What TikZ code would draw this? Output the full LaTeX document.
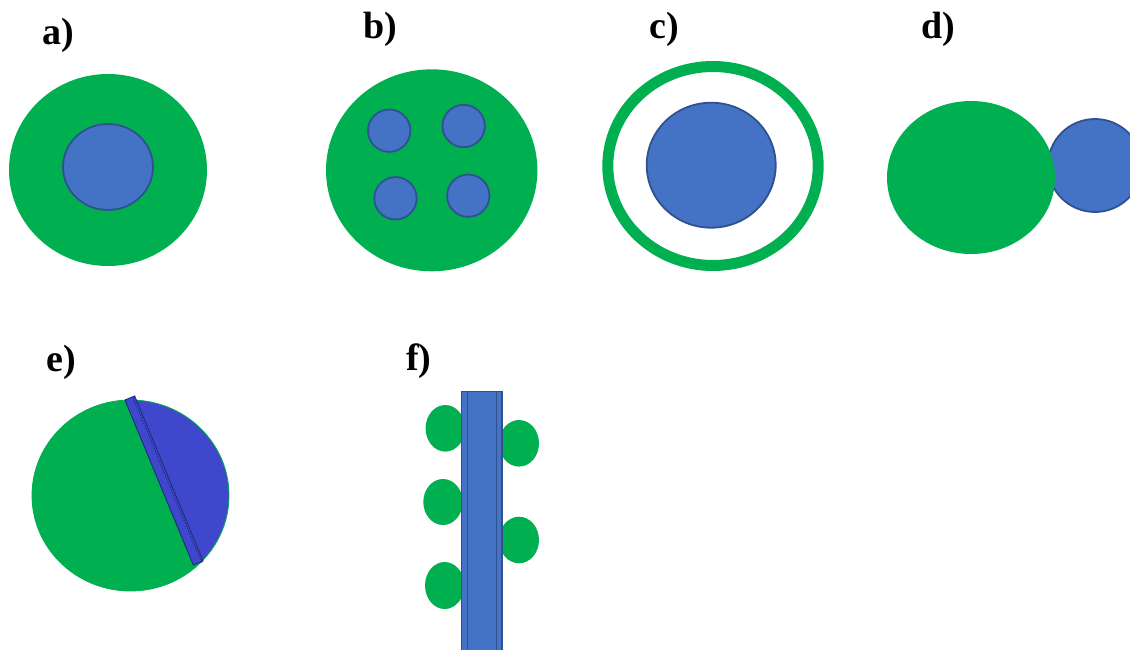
\documentclass[tikz,border=0pt]{standalone}
\usepackage{fontspec}
\setmainfont{Liberation Serif}
\definecolor{cellgreen}{HTML}{00B050}
\definecolor{corefill}{HTML}{4472C4}
\definecolor{coreline}{HTML}{2F528F}
\definecolor{capblue}{HTML}{3F48CC}
\definecolor{capline}{HTML}{1F2A78}
\begin{document}
\begin{tikzpicture}[x=1pt,y=-1pt,
  panel/.style={font=\bfseries\fontsize{38}{38}\selectfont, inner sep=0pt, anchor=base west},
  shell/.style={fill=cellgreen, draw=none},
  core/.style={fill=corefill, draw=coreline, line width=1.8pt},
  ring/.style={draw=cellgreen, line width=11pt, fill=none}]
\useasboundingbox (0,0) rectangle (1130,650);

% panel letters
\node[panel] (la) at (42,45) {a)};
\node[panel] (lb) at (363,39) {b)};
\node[panel] (lc) at (649,39) {c)};
\node[panel] (ld) at (921,39) {d)};
\node[panel] (le) at (46,371) {e)};
\node[panel] (lf) at (406,370) {f)};

% a) core inside a shell
\fill[shell] (108,170) ellipse [x radius=99, y radius=96];
\draw[core] (108,167) ellipse [x radius=45, y radius=43];

% b) several small cores in one shell
\fill[shell] (431.7,170.3) ellipse [x radius=105.7, y radius=101];
\draw[core] (389.2,130.7) circle [radius=21.2];
\draw[core] (463.7,126) circle [radius=21.2];
\draw[core] (395.5,198.3) circle [radius=21.2];
\draw[core] (468.3,195.7) circle [radius=21.2];

% c) core with a detached outer ring
\draw[ring] (713,166) ellipse [x radius=105.2, y radius=99.5];
\draw[core] (711.2,165.2) ellipse [x radius=64.5, y radius=62.5];

% d) two spheres side by side
\begin{scope}
  \clip (0,0) rectangle (1130,650);
  \draw[core] (1095,165.5) ellipse [x radius=47, y radius=46.5];
\end{scope}
\fill[shell] (971,177.5) ellipse [x radius=84, y radius=76.5];

% e) janus particle split by a band
\fill[shell] (130.5,495.5) ellipse [x radius=98.5, y radius=95.5];
\begin{scope}
  \clip (130.5,495.5) ellipse [x radius=98.5, y radius=95.5];
  \fill[capblue] (123.2,368.3) -- (218.3,598) -- (260,598) -- (260,368.3) -- cycle;
\end{scope}
\draw[cellgreen, line width=0.8pt] (130.5,495.5) ellipse [x radius=98.5, y radius=95.5];
\filldraw[fill=capblue, draw=capline, line width=0.9pt]
  (125,400) -- (134.7,396) -- (203,561) -- (193.3,565) -- cycle;
\draw[capline, line width=0.9pt, dash pattern=on 1.5pt off 1.5pt]
  (133.2,397.8) -- (201.5,562.5);

% f) rod with attached spheres
\fill[shell] (445.3,428.3) ellipse [x radius=19.7, y radius=23.3];
\fill[shell] (519,443.3) ellipse [x radius=20, y radius=23.3];
\fill[shell] (443,502) ellipse [x radius=19.7, y radius=23];
\fill[shell] (519,540) ellipse [x radius=20, y radius=23.3];
\fill[shell] (444.7,585.5) ellipse [x radius=19.7, y radius=23.5];
\begin{scope}
  \clip (0,0) rectangle (1130,650);
  \draw[core, line width=1.5pt] (461.7,391.7) rectangle (502,655);
  \draw[coreline, line width=1.5pt] (467.7,391.7) -- (467.7,655);
  \draw[coreline, line width=1.5pt] (496.7,391.7) -- (496.7,655);
\end{scope}
\end{tikzpicture}
\end{document}
